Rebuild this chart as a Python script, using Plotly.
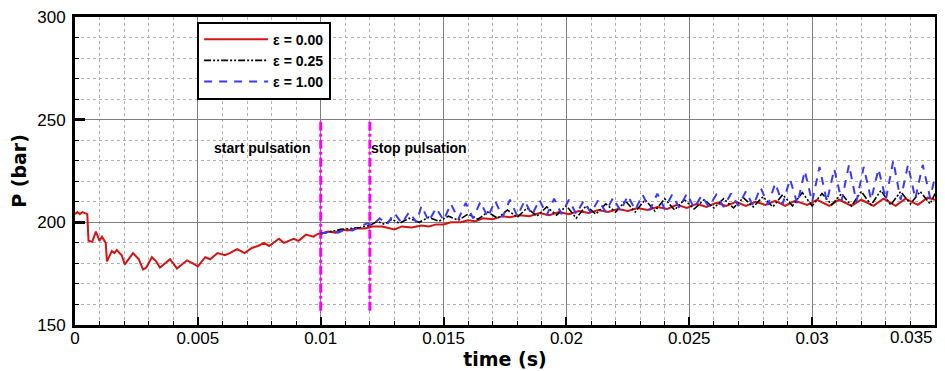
import plotly.graph_objects as go

# ---------------- data ----------------
red_t = [0.0000, 0.0001, 0.0002, 0.0003, 0.0004, 0.0005, 0.00055, 0.0007, 0.00085, 0.0010,
         0.0011, 0.00125, 0.0013, 0.0015, 0.0016, 0.0017, 0.0019, 0.00203, 0.00236, 0.0026,
         0.00277, 0.0029, 0.00313, 0.0033, 0.00346, 0.0036, 0.00387, 0.0040, 0.00415, 0.0043,
         0.00456, 0.0048, 0.0050, 0.0053, 0.0055, 0.0058, 0.0061, 0.0063, 0.0066, 0.0069,
         0.0072, 0.00745, 0.0077, 0.0079, 0.0083, 0.0085, 0.0089, 0.0091, 0.0094, 0.0097,
         0.0099, 0.0100, 0.0103, 0.0106, 0.0108, 0.0111, 0.0114, 0.0118, 0.0121, 0.0125,
         0.0128, 0.0130, 0.0133, 0.0137, 0.0141, 0.0144, 0.0147, 0.0150, 0.0153, 0.0157,
         0.0160, 0.0163, 0.0166, 0.0170, 0.0174, 0.0177, 0.0181, 0.0185, 0.0189, 0.0193,
         0.0197, 0.0201, 0.0205, 0.0209, 0.0213, 0.0217, 0.0221, 0.0225, 0.0229, 0.0233,
         0.0237, 0.0241, 0.0245, 0.0249, 0.0253, 0.0257, 0.0261, 0.0265, 0.0269, 0.0273,
         0.0277, 0.0281, 0.0285, 0.0289, 0.0293, 0.0298, 0.0302, 0.0307, 0.0311, 0.0316,
         0.0320, 0.0325, 0.0329, 0.0334, 0.0338, 0.0343, 0.0347, 0.0350]
red_p = [204, 205, 204, 205, 204.5, 204, 191, 190.5, 195.5, 191,
         193, 190, 181, 186, 185, 186.5, 184, 179.5, 185, 182,
         177, 178, 183, 181, 178, 179.5, 182, 180, 177.5, 179,
         181.5, 180, 178.5, 183, 182, 185, 184, 185, 187, 185,
         187.5, 188.5, 190, 188.5, 192, 190, 192, 191, 194, 193,
         194.5, 194.5, 195.5, 195, 196.5, 196, 197, 197, 198, 198,
         197, 196.5, 198, 197.5, 198.5, 198, 199, 199, 200, 200,
         201, 200.5, 202, 201.5, 203, 202.5, 203.5, 203, 204.5, 203.5,
         205, 204, 205.5, 204.5, 206, 205, 206.5, 205.5, 207, 206,
         207.5, 206.5, 208.5, 207, 209, 207.5, 209.5, 208, 210, 208,
         210, 208.5, 210.5, 208, 210.5, 208.5, 211, 208, 211, 208,
         211, 208, 211.5, 208, 211.5, 208.5, 212, 211]

black_t = [0.0100, 0.0104, 0.0108, 0.0112, 0.0116, 0.0120, 0.0123, 0.0126, 0.0129, 0.0132,
           0.0136, 0.0140, 0.0144, 0.0148, 0.0152, 0.0156, 0.0160, 0.0164, 0.0168, 0.0172,
           0.0176, 0.0180, 0.0184, 0.0188, 0.0192, 0.0196, 0.0200, 0.0204, 0.0208, 0.0212,
           0.0216, 0.0220, 0.0224, 0.0228, 0.0232, 0.0236, 0.0240, 0.0244, 0.0248, 0.0252,
           0.0256, 0.0260, 0.0264, 0.0268, 0.0272, 0.0276, 0.0280, 0.0284, 0.0288, 0.0292,
           0.0296, 0.0300, 0.0304, 0.0308, 0.0312, 0.0316, 0.0320, 0.0324, 0.0328, 0.0332,
           0.0336, 0.0340, 0.0344, 0.0348, 0.0350]
black_p = [194.5, 195.5, 196.5, 197, 197.5, 198.5, 200.5, 199, 201.5, 199.5,
           202, 200, 202.5, 200.5, 203, 201, 204, 201.5, 205, 202,
           206, 202.5, 207, 203, 207.5, 203.5, 208, 202, 208, 204,
           209, 205, 210.5, 205, 211, 205.5, 211.5, 206, 211, 206.5,
           211, 207, 211.5, 207, 212, 207.5, 212.5, 207.5, 213.5, 208,
           214.5, 208, 214, 208.5, 214, 208, 215, 208.5, 215.5, 208.5,
           215, 209, 215, 209, 214]

blue_t = [0.0100, 0.0104, 0.0107, 0.0110, 0.0113, 0.0116, 0.0119, 0.0121, 0.0124, 0.0127,
          0.0130, 0.0133, 0.0136, 0.0139, 0.0141, 0.0144, 0.0147, 0.0150, 0.0153, 0.0156,
          0.0159, 0.0162, 0.0165, 0.0168, 0.0171, 0.0174, 0.0177, 0.0180, 0.0183, 0.0186,
          0.0189, 0.0192, 0.0195, 0.0198, 0.0201, 0.0204, 0.0207, 0.0210, 0.0213, 0.0216,
          0.0219, 0.0222, 0.0225, 0.0228, 0.0231, 0.0234, 0.0237, 0.0240, 0.0243, 0.0246,
          0.0249, 0.0252, 0.0255, 0.0258, 0.0261, 0.0264, 0.0267, 0.0270, 0.0273, 0.0276,
          0.0279, 0.0282, 0.0285, 0.0288, 0.0291, 0.0294, 0.0297, 0.0300, 0.0303, 0.0306,
          0.0309, 0.0312, 0.0315, 0.0318, 0.0321, 0.0324, 0.0327, 0.0330, 0.0333, 0.0336,
          0.0339, 0.0342, 0.0345, 0.0348, 0.0350]
blue_p = [194.5, 195.5, 195, 196.5, 196, 198, 199.5, 198.5, 202, 199,
          204.5, 199.5, 205, 200, 208, 200.5, 207, 201, 209, 201.5,
          209.5, 202, 210, 202.5, 210.5, 202.5, 211, 203, 210.5, 203.5,
          211, 203.5, 211.5, 204, 211, 204, 210.5, 204.5, 211, 205,
          212, 205.5, 213, 206, 213.5, 206, 214, 206.5, 213.5, 207,
          214, 207, 213, 207.5, 213.5, 207.5, 214, 208, 215, 208,
          217, 208.5, 219, 209, 221, 209, 225, 210, 227, 210,
          226, 210.5, 228, 210, 227, 211, 226, 211, 230, 211,
          228, 211.5, 228, 212, 222]

series_names = ["ε = 0.00", "ε = 0.25", "ε = 1.00"]

pulse_times = [0.010, 0.012]
pulse_range = [157, 249]
pulse_labels = ["start pulsation", "stop pulsation"]
pulse_label_t = [0.0076, 0.0140]
pulse_label_p = [236, 236]

x_ticks = [0, 0.005, 0.01, 0.015, 0.02, 0.025, 0.03, 0.035]
x_ticklabels = ["0", "0.005", "0.01", "0.015", "0.02", "0.025", "0.03", "0.035"]
y_ticks = [150, 200, 250, 300]
y_ticklabels = ["150", "200", "250", "300"]

# ---------------- figure ----------------
FONT = "Liberation Sans, Arial, sans-serif"
TFONT = "DejaVu Sans, sans-serif"
fig = go.Figure()

for tp in pulse_times:
    fig.add_trace(go.Scatter(x=[tp, tp], y=pulse_range, mode="lines",
                             line=dict(color="#ff00ff", width=3, dash="dashdot"),
                             showlegend=False, hoverinfo="skip"))

fig.add_trace(go.Scatter(x=red_t, y=red_p, mode="lines", name=series_names[0],
                         line=dict(color="#d41414", width=2)))
fig.add_trace(go.Scatter(x=black_t, y=black_p, mode="lines", name=series_names[1],
                         line=dict(color="#000000", width=1.6, dash="7px,2px,2px,2px,2px,2px")))
fig.add_trace(go.Scatter(x=blue_t, y=blue_p, mode="lines", name=series_names[2],
                         line=dict(color="#3a3aff", width=2, dash="8px,7px")))

for lab, lt, lp in zip(pulse_labels, pulse_label_t, pulse_label_p):
    fig.add_annotation(x=lt, y=lp, text=lab, showarrow=False,
                       font=dict(family=FONT, size=14, color="#000000", weight="bold"))

# last x tick label sits inside the right edge, as in the reference
fig.add_annotation(x=x_ticks[-1], y=0, xref="x", yref="paper", yanchor="top", xanchor="right",
                   yshift=-1, text=x_ticklabels[-1], showarrow=False,
                   font=dict(family=FONT, size=17, color="black"))

fig.update_xaxes(range=[0, 0.035], tickvals=x_ticks[:-1], ticktext=x_ticklabels[:-1],
                 automargin=False,
                 showline=True, linewidth=3, linecolor="black", mirror=True,
                 ticks="inside", ticklen=8, tickwidth=2, tickcolor="black",
                 ticklabelstandoff=-4,
                 showgrid=True, gridcolor="#7f7f7f", gridwidth=1,
                 minor=dict(dtick=0.001, showgrid=True, gridcolor="#b0b0b0", griddash="dot",
                            ticks="inside", ticklen=4, tickwidth=1, tickcolor="black"),
                 zeroline=False,
                 tickfont=dict(family=FONT, size=17, color="black"),
                 title=dict(text="<b>time (s)</b>", font=dict(family=TFONT, size=19, color="black"),
                            standoff=0))
fig.update_yaxes(range=[150, 300], tickvals=y_ticks, ticktext=y_ticklabels,
                 automargin=False, ticklabeloverflow="allow",
                 showline=True, linewidth=3, linecolor="black", mirror=True,
                 ticks="inside", ticklen=10, tickwidth=3, tickcolor="black",
                 ticklabelstandoff=3,
                 showgrid=True, gridcolor="#7f7f7f", gridwidth=1,
                 minor=dict(dtick=10, showgrid=True, gridcolor="#b0b0b0", griddash="dot",
                            ticks="inside", ticklen=4, tickwidth=1, tickcolor="black"),
                 zeroline=False,
                 tickfont=dict(family=FONT, size=17, color="black"),
                 title=dict(text="<b>P (bar)</b>", font=dict(family=TFONT, size=19, color="black"),
                            standoff=8))

# the page body has an 8px default margin, so the figure is sized/offset accordingly
fig.update_layout(
    width=937, height=363,
    margin=dict(l=67, r=10, t=9, b=46),
    paper_bgcolor="white", plot_bgcolor="white",
    font=dict(family=FONT, color="black"),
    legend=dict(x=0.142, y=0.985, xanchor="left", yanchor="top",
                bgcolor="white", bordercolor="black", borderwidth=2,
                font=dict(family=FONT, size=14, color="black", weight="bold"),
                tracegroupgap=0, itemwidth=64),
)

fig.write_html("out.html")
